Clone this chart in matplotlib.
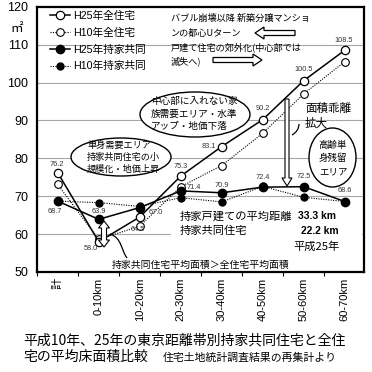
import matplotlib
matplotlib.use("Agg")
import matplotlib.pyplot as plt
from matplotlib.transforms import Affine2D
from matplotlib.patches import Ellipse, Rectangle, FancyArrow, Polygon, PathPatch
from matplotlib.path import Path
from matplotlib.ticker import FixedLocator

plt.rcParams['font.family'] = ['Liberation Sans', 'Noto Sans CJK JP', 'DejaVu Sans']
JP = ['Noto Sans CJK JP', 'DejaVu Sans']

# ---------------- data ----------------
categories = ['計', '0-10km', '10-20km', '20-30km', '30-40km', '40-50km', '50-60km', '60-70km']
h25_all = [76.2, 58.0, 64.5, 75.3, 83.1, 90.2, 100.5, 108.5]
h10_all = [73.1, 58.6, 62.1, 72.5, 78.1, 86.6, 97.0, 105.5]
h25_own = [68.7, 63.9, 67.0, 71.4, 70.9, 72.4, 72.5, 68.6]
h10_own = [68.7, 68.3, 67.3, 69.6, 68.5, 72.6, 69.7, 68.6]
series_names = ['H25年全住宅', 'H10年全住宅', 'H25年持家共同', 'H10年持家共同']
yticks = [50, 60, 70, 80, 90, 100, 110, 120]

# label offsets (reference pixels, +y = up)
off_h25_all = [(-1, 8), (-8, -7), (-2, -12), (0, 10), (-13, 0), (0, 11), (0, 11), (-1, 10)]
off_h25_own = [(-3, -10), (0, 8), (16, -5), (13, 3), (0, 7), (0, 10), (0, 10), (0, 11)]

W = 372
fig = plt.figure(figsize=(3.72, 3.72), dpi=100)
pix = Affine2D().scale(1 / W, -1 / W).translate(0, 1) + fig.transFigure

ax = fig.add_axes([37 / W, 1 - 272 / W, (364 - 37) / W, (272 - 6.7) / W])
x = list(range(len(categories)))

for v in yticks[1:-1]:
    ax.axhline(v, color='#a6a6a6', lw=0.8, zorder=1)

ax.plot(x, h10_all, linestyle=(0, (1, 1.2)), color='black', lw=0.8, marker='o', ms=5.5,
        mfc='white', mec='black', mew=0.8, zorder=3, label=series_names[1])
ax.plot(x, h10_own, linestyle=(0, (1, 1.2)), color='black', lw=0.8, marker='o', ms=5,
        mfc='black', mec='black', zorder=3, label=series_names[3])
ax.plot(x, h25_all, linestyle='-', color='black', lw=1.1, marker='o', ms=6,
        mfc='white', mec='black', mew=0.9, zorder=3.2, label=series_names[0])
ax.plot(x, h25_own, linestyle='-', color='black', lw=1.1, marker='o', ms=6,
        mfc='black', mec='black', zorder=3.2, label=series_names[2])

for xi, v, (dx, dy) in zip(x, h25_all, off_h25_all):
    ax.annotate(f'{v:.1f}', (xi, v), xytext=(dx * 0.72, dy * 0.72), textcoords='offset points',
                ha='center', va='center', fontsize=5.3, color='#333333', zorder=5)
for xi, v, (dx, dy) in zip(x, h25_own, off_h25_own):
    ax.annotate(f'{v:.1f}', (xi, v), xytext=(dx * 0.72, dy * 0.72), textcoords='offset points',
                ha='center', va='center', fontsize=5.3, color='#333333', zorder=5)

ax.set_xlim(-0.505, 7.47)
ax.set_ylim(50, 120)
ax.set_yticks(yticks)
ax.set_yticklabels([str(t) for t in yticks], fontsize=9)
ax.tick_params(axis='y', length=0, pad=6.5)
ax.set_xticks(x)
ax.set_xticklabels(categories, rotation=90, fontsize=8, va='top', ha='center')
ax.xaxis.set_minor_locator(FixedLocator([i + 0.5 for i in range(-1, 8)]))
ax.tick_params(axis='x', which='major', length=0, pad=4)
ax.tick_params(axis='x', which='minor', length=3, width=0.8, direction='out')
for s in ax.spines.values():
    s.set_linewidth(1.6)

# legend
h, l = ax.get_legend_handles_labels()
order = [2, 0, 3, 1]
leg = ax.legend([h[i] for i in order], [l[i] for i in order], loc='upper left',
                bbox_to_anchor=(50 / W, 1 - 11 / W), bbox_transform=fig.transFigure,
                frameon=False, borderpad=0, borderaxespad=0, handlelength=1.85,
                handletextpad=0.3, labelspacing=0.62, prop={'family': ['Liberation Sans', 'Noto Sans CJK JP'], 'size': 7.7})
leg.set_zorder(6)

def txt(px, py, s, size, ha='left', weight='normal', fam=JP):
    ax.text(px, py, s, transform=pix, fontsize=size, ha=ha, va='center',
            family=fam, weight=weight, zorder=5, clip_on=False)

# top note + hollow arrows
txt(171, 18, 'バブル崩壊以降 新築分譲マンショ', 6.6)
txt(171, 33, 'ンの都心Uターン', 6.6)
txt(171, 47, '戸建て住宅の郊外化(中心部では', 6.6)
txt(171, 61, '滅失へ)', 6.6)
ax.add_patch(FancyArrow(295, 33, -40, 0, width=5, head_width=12, head_length=9,
                        length_includes_head=True, fc='white', ec='black', lw=0.9,
                        transform=pix, zorder=4))
ax.add_patch(FancyArrow(213, 60, 49, 0, width=5, head_width=12, head_length=9,
                        length_includes_head=True, fc='white', ec='black', lw=0.9,
                        transform=pix, zorder=4))

# ellipses
ax.add_patch(Ellipse((195, 114.5), 110, 45, transform=pix, fc='white', ec='black', lw=1.0, zorder=2))
txt(151, 101, '中心部に入れない家', 6.9)
txt(151, 114, '族需要エリア・水準', 6.9)
txt(151, 127, 'アップ・地価下落', 6.9)

ax.add_patch(Ellipse((121, 157), 100, 38, transform=pix, fc='white', ec='black', lw=1.0, zorder=2))
txt(87, 145, '単身需要エリア', 6.6)
txt(87, 157, '持家共同住宅の小', 6.6)
txt(87, 169, '規模化・地価上昇', 6.6)

ax.add_patch(Ellipse((332.5, 157.5), 47, 59, transform=pix, fc='white', ec='black', lw=1.0, zorder=2))
txt(333, 145, '高齢単', 6.8, ha='center')
txt(333, 158, '身残留', 6.8, ha='center')
txt(333, 172, 'エリア', 6.8, ha='center')

# gap arrow
txt(305, 108, '面積乖離', 8.3)
txt(305, 123, '拡大', 8.3)
ax.add_patch(FancyArrow(287, 99, 0, 87, width=4, head_width=10, head_length=8,
                        length_includes_head=True, fc='white', ec='black', lw=0.8,
                        transform=pix, zorder=4))
ax.add_patch(PathPatch(Path([(299, 124), (299, 131), (292, 135)],
                            [Path.MOVETO, Path.CURVE3, Path.CURVE3]),
                       fc='none', ec='black', lw=0.9, transform=pix, zorder=4))

# white box with distances
ax.add_patch(Rectangle((171, 205), 191, 52, transform=pix, fc='white', ec='none', zorder=2))
txt(180, 216, '持家戸建ての平均距離', 8.1)
txt(298, 216, '33.3 km', 7.4, weight='bold', fam=['Liberation Sans'])
txt(180, 231, '持家共同住宅', 8.1)
txt(301, 231, '22.2 km', 7.4, weight='bold', fam=['Liberation Sans'])
txt(293, 247, '平成25年', 8.1)

# small double arrow near 0-10km
c, t, b, w, hh, L = 104, 221, 247, 2.5, 5.5, 7
pts = [(c, t), (c + hh, t + L), (c + w, t + L), (c + w, b - L), (c + hh, b - L), (c, b),
       (c - hh, b - L), (c - w, b - L), (c - w, t + L), (c - hh, t + L)]
ax.add_patch(Polygon(pts, closed=True, transform=pix, fc='white', ec='black', lw=0.8, zorder=4))
ax.add_patch(PathPatch(Path([(110, 234), (122, 238), (121, 250), (127, 258)],
                            [Path.MOVETO, Path.CURVE4, Path.CURVE4, Path.CURVE4]),
                       fc='none', ec='black', lw=0.9, transform=pix, zorder=4))
txt(112, 265, '持家共同住宅平均面積＞全住宅平均面積', 7.1)

# unit label and title
fig.text(17 / W, 1 - 28 / W, '㎡', fontsize=9, ha='center', va='center', family=JP)
fig.text(23 / W, 1 - 340 / W, '平成10年、25年の東京距離帯別持家共同住宅と全住', fontsize=10,
         ha='left', va='center', family=JP)
fig.text(23 / W, 1 - 357 / W, '宅の平均床面積比較', fontsize=10, ha='left', va='center', family=JP)
fig.text(163 / W, 1 - 358 / W, '住宅土地統計調査結果の再集計より', fontsize=7.8, ha='left',
         va='center', family=JP)

fig.savefig('out.png', dpi=100)
